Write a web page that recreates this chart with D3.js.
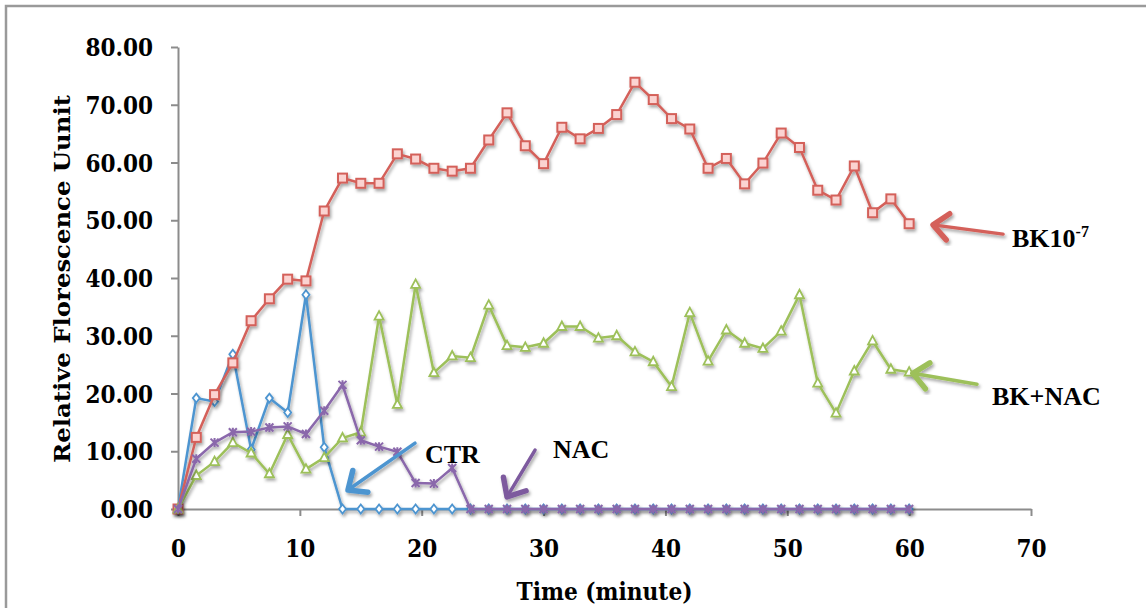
<!DOCTYPE html>
<html>
<head>
<meta charset="utf-8">
<script src="https://cdn.jsdelivr.net/npm/d3@7"></script>
<style>
  html, body { margin: 0; padding: 0; background: #fff; }
  svg { display: block; }
  .tick text { font-family: "DejaVu Serif", serif; font-stretch: condensed; font-weight: bold; font-size: 24px; fill: #000; }
  .title { font-family: "DejaVu Serif", serif; font-stretch: condensed; font-weight: bold; fill: #000; }
  .note { font-family: "Liberation Serif", "Times New Roman", serif; font-weight: bold; font-size: 26px; fill: #000; }
</style>
</head>
<body>
<svg></svg>
<script>
// Set up dimensions
const width = 1146, height = 608;
const margin = { top: 47, right: 115, bottom: 99, left: 178 };

// Data
const times = [0, 1.5, 3, 4.5, 6, 7.5, 9, 10.5, 12, 13.5, 15, 16.5, 18, 19.5, 21, 22.5, 24, 25.5, 27, 28.5,
  30, 31.5, 33, 34.5, 36, 37.5, 39, 40.5, 42, 43.5, 45, 46.5, 48, 49.5, 51, 52.5, 54, 55.5, 57, 58.5, 60];
const ctr = [0, 19.2, 18.6, 26.8, 10.3, 19.2, 16.7, 37.1, 10.7, 0, 0, 0, 0, 0, 0, 0, 0, 0, 0, 0,
  0, 0, 0, 0, 0, 0, 0, 0, 0, 0, 0, 0, 0, 0, 0, 0, 0, 0, 0, 0, 0];
const bk = [0, 12.4, 19.8, 25.3, 32.6, 36.4, 39.8, 39.5, 51.6, 57.3, 56.4, 56.4, 61.5, 60.6, 59.0, 58.5, 59.0, 63.9, 68.6, 62.9,
  59.8, 66.1, 64.1, 65.9, 68.3, 73.9, 70.9, 67.6, 65.8, 59.0, 60.7, 56.3, 59.9, 65.1, 62.6, 55.2, 53.5, 59.4, 51.3, 53.7, 49.4];
const bkNac = [0, 5.8, 8.2, 11.5, 9.7, 6.1, 12.9, 6.9, 8.9, 12.3, 13.3, 33.4, 18.1, 38.9, 23.6, 26.5, 26.2, 35.3, 28.3, 28.0,
  28.7, 31.6, 31.6, 29.6, 30.0, 27.2, 25.5, 21.2, 34.0, 25.6, 31.0, 28.7, 27.8, 30.8, 37.1, 21.8, 16.6, 23.9, 29.1, 24.2, 23.7];
const nac = [0, 8.7, 11.5, 13.3, 13.4, 14.1, 14.3, 13.0, 17.0, 21.5, 11.9, 10.8, 9.9, 4.5, 4.4, 7.1, 0, 0, 0, 0,
  0, 0, 0, 0, 0, 0, 0, 0, 0, 0, 0, 0, 0, 0, 0, 0, 0, 0, 0, 0, 0];

const xTicks = [0, 10, 20, 30, 40, 50, 60, 70];
const yTicks = [0, 10, 20, 30, 40, 50, 60, 70, 80];

// Arrow annotations in data units: tip, tail, label position
const notes = [
  { label: "BK10", sup: "-7", color: "#d4615a", tip: [61.96, 49.2], tail: [67.7, 47.6], at: [68.44, 45.4] },
  { label: "BK+NAC", color: "#9dc05a", tip: [60.3, 23.5], tail: [65.57, 21.6], at: [66.8, 18.0] },
  { label: "CTR", color: "#4e95d0", tip: [13.95, 3.3], tail: [19.45, 11.4], at: [20.27, 8.0] },
  { label: "NAC", color: "#7d5a9e", tip: [27.0, 2.1], tail: [29.3, 10.2], at: [30.77, 8.8] }
];

const svg = d3.select("svg").attr("width", width).attr("height", height);

// Drop shadow used by Excel-like series
const defs = svg.append("defs");
defs.append("filter").attr("id", "shadow")
    .attr("x", "-20%").attr("y", "-20%").attr("width", "140%").attr("height", "140%")
  .append("feDropShadow")
    .attr("dx", 1.5).attr("dy", 2.5).attr("stdDeviation", 1.6)
    .attr("flood-color", "#000").attr("flood-opacity", 0.35);

// Outer frame (only top and left visible)
svg.append("rect")
    .attr("x", 6).attr("y", 6)
    .attr("width", width + 20).attr("height", height + 20)
    .attr("fill", "none").attr("stroke", "#9a9a9a").attr("stroke-width", 2.5);

// Scales
const xScale = d3.scaleLinear().domain([0, 70]).range([margin.left, width - margin.right]);
const yScale = d3.scaleLinear().domain([0, 80]).range([height - margin.bottom, margin.top]);

// Axes
const yAxis = svg.append("g")
    .attr("transform", `translate(${margin.left},0)`)
    .call(d3.axisLeft(yScale).tickValues(yTicks).tickFormat(d3.format(".2f")).tickSize(7).tickSizeOuter(0).tickPadding(18));
yAxis.selectAll("text").attr("dy", "0.36em");

const xAxis = svg.append("g")
    .attr("transform", `translate(0,${height - margin.bottom})`)
    .call(d3.axisBottom(xScale).tickValues(xTicks).tickSize(7).tickSizeOuter(0).tickPadding(24));

svg.selectAll(".domain, .tick line").attr("stroke", "#8c8c8c").attr("stroke-width", 2);

// Axis titles
svg.append("text")
    .attr("class", "title")
    .attr("x", (margin.left + width - margin.right) / 2 + 0)
    .attr("y", 600)
    .attr("text-anchor", "middle")
    .attr("font-size", 24)
    .attr("textLength", 176).attr("lengthAdjust", "spacingAndGlyphs")
    .text("Time (minute)");

svg.append("text")
    .attr("class", "title")
    .attr("transform", "rotate(-90)")
    .attr("x", -279)
    .attr("y", 70)
    .attr("text-anchor", "middle")
    .attr("font-size", 23)
    .attr("textLength", 368).attr("lengthAdjust", "spacingAndGlyphs")
    .text("Relative Florescence Uunit");

// Series
const series = [
  { name: "CTR", values: ctr, color: "#4e95d0", marker: "diamond" },
  { name: "BK10-7", values: bk, color: "#d4615a", marker: "square" },
  { name: "BK+NAC", values: bkNac, color: "#9dc05a", marker: "triangle" },
  { name: "NAC", values: nac, color: "#8a67ab", marker: "cross" }
];

const line = d3.line().x(d => xScale(d.t)).y(d => yScale(d.v));

series.forEach(s => {
  const pts = times.map((t, i) => ({ t: t, v: s.values[i] }));
  const g = svg.append("g").attr("filter", "url(#shadow)");

  g.append("path")
      .datum(pts)
      .attr("fill", "none")
      .attr("stroke", s.color)
      .attr("stroke-width", 2.5)
      .attr("d", line);

  const m = g.selectAll(".m").data(pts).enter().append("g")
      .attr("transform", d => `translate(${xScale(d.t)},${yScale(d.v)})`);

  if (s.marker === "square") {
    m.append("rect").attr("x", -4.5).attr("y", -4.5).attr("width", 9).attr("height", 9)
        .attr("fill", "#fbd3d1").attr("stroke", s.color).attr("stroke-width", 2);
  } else if (s.marker === "diamond") {
    m.append("path").attr("d", "M0,-4.5L3.5,0L0,4.5L-3.5,0Z")
        .attr("fill", "#fff").attr("stroke", s.color).attr("stroke-width", 1.8);
  } else if (s.marker === "triangle") {
    m.append("path").attr("d", "M0,-5L4.5,3.5L-4.5,3.5Z")
        .attr("fill", "#fff").attr("stroke", s.color).attr("stroke-width", 1.8);
  } else {
    m.append("path").attr("d", "M-4,-4L4,4M-4,4L4,-4M0,-4.5L0,4.5")
        .attr("fill", "none").attr("stroke", s.color).attr("stroke-width", 2);
  }
});

// Arrow annotations
notes.forEach(n => {
  const tx = xScale(n.tip[0]), ty = yScale(n.tip[1]);
  const sx = xScale(n.tail[0]), sy = yScale(n.tail[1]);
  const len = Math.hypot(tx - sx, ty - sy);
  const ux = (tx - sx) / len, uy = (ty - sy) / len;
  const head = 20, ang = 0.72;
  const w1 = [tx - head * (ux * Math.cos(ang) - uy * Math.sin(ang)), ty - head * (uy * Math.cos(ang) + ux * Math.sin(ang))];
  const w2 = [tx - head * (ux * Math.cos(ang) + uy * Math.sin(ang)), ty - head * (uy * Math.cos(ang) - ux * Math.sin(ang))];

  const g = svg.append("g").attr("filter", "url(#shadow)");
  g.append("line")
      .attr("x1", sx).attr("y1", sy).attr("x2", tx).attr("y2", ty)
      .attr("stroke", n.color).attr("stroke-width", 3.5).attr("stroke-linecap", "round");
  g.append("path")
      .attr("d", `M${w1[0]},${w1[1]}L${tx},${ty}L${w2[0]},${w2[1]}`)
      .attr("fill", "none").attr("stroke", n.color).attr("stroke-width", 5.5)
      .attr("stroke-linecap", "round").attr("stroke-linejoin", "round");

  const t = svg.append("text")
      .attr("class", "note")
      .attr("x", xScale(n.at[0]))
      .attr("y", yScale(n.at[1]))
      .text(n.label);
  if (n.sup) {
    t.append("tspan").attr("dy", -10).attr("font-size", 16).text(n.sup);
  }
});
</script>
</body>
</html>
